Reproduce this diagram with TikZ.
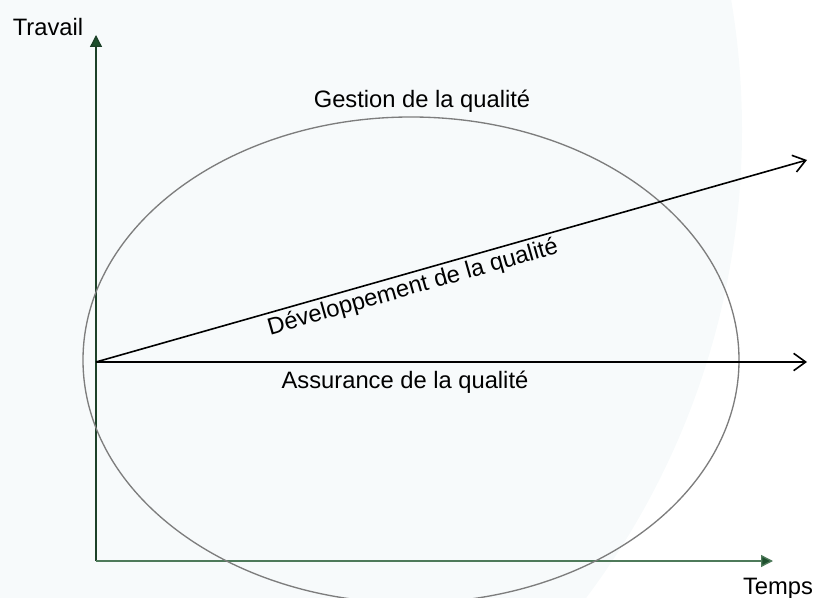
\documentclass[tikz,border=0pt]{standalone}
\usepackage{fontspec}
\setmainfont{Liberation Sans}
\usetikzlibrary{arrows.meta}

\definecolor{bgtint}{RGB}{247,250,251}
\definecolor{axisdark}{RGB}{28,64,40}
\definecolor{axislight}{RGB}{78,122,90}
\definecolor{tipgreen}{RGB}{30,80,46}
\definecolor{ringgray}{RGB}{125,125,125}

\begin{document}
\begin{tikzpicture}[x=0.75pt,y=-0.75pt,
    lbl/.style={font=\fontsize{17.8}{20}\selectfont, inner sep=1pt},
    axis/.style={line width=1pt, -{Triangle[length=9pt,width=9pt,fill=tipgreen]}},
    flow/.style={line width=1.2pt, -{Straight Barb[length=9pt,width=13pt]}}]
    \useasboundingbox (0,0) rectangle (817,598);
    \clip (0,0) rectangle (817,598);

    % Background
    \fill[bgtint] (-38,130) circle[radius=780];

    % Axes
    \coordinate (origin) at (96,561);
    \coordinate (ytip) at (96,35);
    \coordinate (xtip) at (773,561);
    \draw[axis, draw=axisdark] (origin) -- (ytip);
    \draw[axis, draw=axislight] (origin) -- (xtip);
    \node[lbl, anchor=center] (travail) at (48,27) {Travail};
    \node[lbl, anchor=base] (temps) at (778,594) {Temps};

    % Quality management ring
    \draw[ringgray, line width=1pt] (411,360) ellipse[x radius=328, y radius=243];
    \node[lbl, anchor=base] (gestion) at (422,108) {Gestion de la qualité};

    % Development and assurance
    \coordinate (start) at (96,362);
    \coordinate (devend) at (807,160);
    \coordinate (assend) at (807,362);
    \draw[flow] (start) -- (devend)
        node[lbl, pos=0.44, sloped, anchor=north, inner sep=2.5pt] (developpement) {Développement de la qualité};
    \draw[flow] (start) -- (assend);
    \node[lbl, anchor=base] (assurance) at (405,388) {Assurance de la qualité};
\end{tikzpicture}
\end{document}
